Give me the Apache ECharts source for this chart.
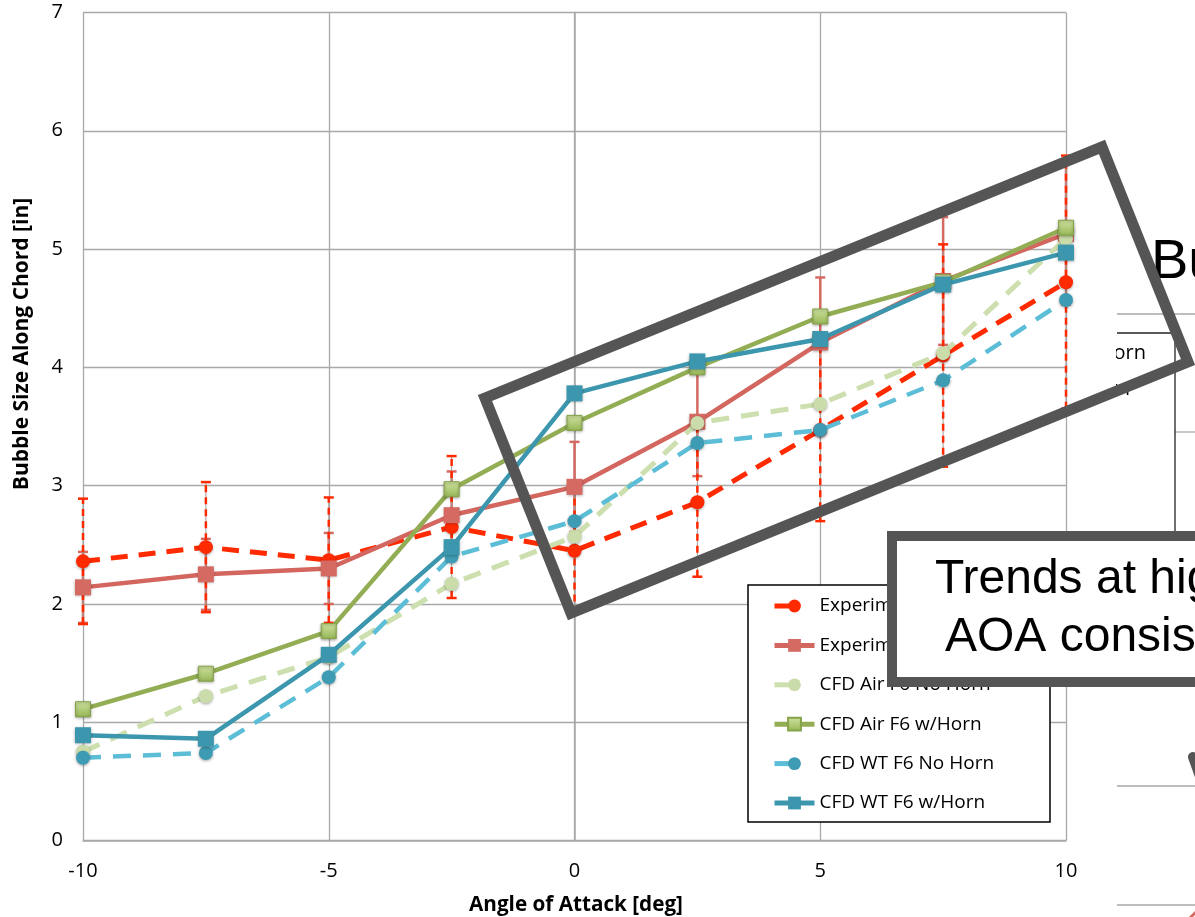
<!DOCTYPE html>
<html>
<head>
<meta charset="utf-8">
<script src="https://cdn.jsdelivr.net/npm/echarts@6/dist/echarts.min.js"></script>
<style>
  html, body { margin: 0; padding: 0; background: #fff; }
  #chart { width: 1195px; height: 917px; }
</style>
</head>
<body>
<div id="chart"></div>
<script>
// Angle of attack stations [deg]
const aoa = [-10, -7.5, -5, -2.5, 0, 2.5, 5, 7.5, 10];

// Bubble size along chord [in]
const expNoHorn    = [2.36, 2.48, 2.37, 2.65, 2.45, 2.86, 3.47, 4.10, 4.72];
const expNoHornErr = [0.53, 0.55, 0.53, 0.60, 0.53, 0.63, 0.77, 0.94, 1.07];
const expHorn      = [2.14, 2.25, 2.30, 2.75, 2.99, 3.54, 4.21, 4.73, 5.13];
const expHornErr   = [0.30, 0.30, 0.30, 0.37, 0.38, 0.46, 0.55, 0.54, 0.60];
const airNoHorn    = [0.75, 1.22, 1.55, 2.17, 2.57, 3.53, 3.69, 4.12, 5.09];
const airHorn      = [1.11, 1.41, 1.77, 2.97, 3.53, 4.00, 4.43, 4.72, 5.18];
const wtNoHorn     = [0.70, 0.74, 1.38, 2.40, 2.70, 3.36, 3.47, 3.89, 4.57];
const wtHorn       = [0.89, 0.86, 1.57, 2.48, 3.78, 4.05, 4.24, 4.70, 4.97];

const seriesNames = [
  'Experimental F6 No Horn',
  'Experimental F6 w/Horn',
  'CFD Air F6 No Horn',
  'CFD Air F6 w/Horn',
  'CFD WT F6 No Horn',
  'CFD WT F6 w/Horn'
];

const xTicks = { min: -10, max: 10, step: 5 };
const yTicks = { min: 0, max: 7, step: 1 };

const pairs = vals => aoa.map((a, i) => [a, vals[i]]);
const GRID = '#a9a9a9';
const FONT = '"Open Sans", "Noto Sans", sans-serif';
const SLIDE_FONT = '"Liberation Sans", Arial, sans-serif';
const markerShadow = { shadowBlur: 3, shadowColor: 'rgba(0,0,0,0.35)', shadowOffsetY: 1 };

function lineSeries(name, vals, opt) {
  return {
    type: 'line', name, z: opt.z,
    data: pairs(vals),
    symbol: opt.symbol, symbolSize: opt.size,
    showAllSymbol: true,
    lineStyle: { color: opt.line, width: opt.width || 4.5, type: opt.dash || 'solid', cap: 'butt' },
    itemStyle: Object.assign({ color: opt.fill, borderColor: opt.border || opt.fill, borderWidth: opt.border ? 1 : 0 }, markerShadow),
    emphasis: { disabled: true },
    animation: false
  };
}

// Vertical error bars with caps, placed through the axis scales
function errorBars(vals, errs, color, dashed, z) {
  return {
    type: 'custom', z, silent: true, animation: false,
    encode: { x: 0, y: [1, 2] },
    data: aoa.map((a, i) => [a, vals[i] - errs[i], vals[i] + errs[i]]),
    renderItem(params, api) {
      const lo = api.coord([api.value(0), api.value(1)]);
      const hi = api.coord([api.value(0), api.value(2)]);
      const c = 5;
      const kids = [];
      if (dashed) {
        kids.push({ type: 'line', shape: { x1: lo[0], y1: lo[1], x2: hi[0], y2: hi[1] },
          style: { stroke: '#9c9c9c', lineWidth: 1 } });
      }
      kids.push({ type: 'line', shape: { x1: lo[0], y1: lo[1], x2: hi[0], y2: hi[1] },
        style: { stroke: color, lineWidth: 2.5, lineDash: dashed ? [7, 5] : null } });
      kids.push({ type: 'line', shape: { x1: lo[0] - c, y1: lo[1], x2: lo[0] + c, y2: lo[1] },
        style: { stroke: color, lineWidth: 2.5 } });
      kids.push({ type: 'line', shape: { x1: hi[0] - c, y1: hi[1], x2: hi[0] + c, y2: hi[1] },
        style: { stroke: color, lineWidth: 2.5 } });
      return { type: 'group', children: kids };
    }
  };
}

const greenGrad = new echarts.graphic.LinearGradient(0, 0, 0, 1, [
  { offset: 0, color: '#cfe3a0' }, { offset: 1, color: '#96b655' }
]);

const chart = echarts.init(document.getElementById('chart'), null, { renderer: 'canvas' });

chart.setOption({
  backgroundColor: '#ffffff',
  animation: false,
  grid: { left: 83, top: 12.5, width: 983, height: 828, containLabel: false },
  xAxis: {
    type: 'value', min: xTicks.min, max: xTicks.max, interval: xTicks.step,
    axisLine: { show: true, lineStyle: { color: GRID, width: 1.5 } },
    axisTick: { show: false },
    splitLine: { show: true, lineStyle: { color: GRID, width: 1.3 } },
    axisLabel: { color: '#000', fontFamily: FONT, fontSize: 20, margin: 21 }
  },
  yAxis: {
    type: 'value', min: yTicks.min, max: yTicks.max, interval: yTicks.step,
    axisLine: { show: true, lineStyle: { color: GRID, width: 1.5 } },
    axisTick: { show: false },
    splitLine: { show: true, lineStyle: { color: GRID, width: 1.3 } },
    axisLabel: { color: '#000', fontFamily: FONT, fontSize: 20, margin: 20 }
  },
  legend: {
    orient: 'vertical', left: 748, top: 585,
    padding: [11, 10, 9, 24],
    itemWidth: 40, itemHeight: 16, itemGap: 19.4,
    selectedMode: false,
    textStyle: { color: '#000', fontFamily: FONT, fontSize: 19, lineHeight: 20 },
    lineStyle: { width: 5 },
    z: 4,
    data: [
      { name: seriesNames[0], lineStyle: { type: [17, 30], width: 5 } },
      { name: seriesNames[1], lineStyle: { type: 'solid', width: 5 } },
      { name: seriesNames[2], lineStyle: { type: [17, 30], width: 5 } },
      { name: seriesNames[3], lineStyle: { type: 'solid', width: 5 } },
      { name: seriesNames[4], lineStyle: { type: [17, 30], width: 5 } },
      { name: seriesNames[5], lineStyle: { type: 'solid', width: 5 } }
    ]
  },
  series: [
    errorBars(expHorn, expHornErr, '#d46a62', false, 1),
    errorBars(expNoHorn, expNoHornErr, '#ff2a00', true, 1.5),
    lineSeries(seriesNames[0], expNoHorn, { z: 2, symbol: 'circle', size: 14, line: '#ff2a00', fill: '#ff2a00', dash: [17, 11], width: 5 }),
    lineSeries(seriesNames[1], expHorn, { z: 2.1, symbol: 'rect', size: 16, line: '#d3665e', fill: '#d46a62' }),
    lineSeries(seriesNames[2], airNoHorn, { z: 2.2, symbol: 'circle', size: 14, line: '#cddfae', fill: '#cbdcab', dash: [18, 12], width: 5 }),
    lineSeries(seriesNames[3], airHorn, { z: 2.3, symbol: 'rect', size: 15, line: '#93ad55', fill: greenGrad, border: '#86a348' }),
    lineSeries(seriesNames[4], wtNoHorn, { z: 2.4, symbol: 'circle', size: 14, line: '#5bbdd6', fill: '#3d9bb3', dash: [18, 12], width: 4.5 }),
    lineSeries(seriesNames[5], wtHorn, { z: 2.5, symbol: 'rect', size: 16, line: '#3c97ae', fill: '#3c97ae' })
  ],
  graphic: [
    // axis titles
    { type: 'text', z: 5, x: 576, y: 905,
      style: { text: 'Angle of Attack [deg]', fill: '#000', font: 'bold 20.7px ' + FONT, textAlign: 'center', textVerticalAlign: 'middle' } },
    { type: 'text', z: 5, x: 22, y: 344, rotation: Math.PI / 2,
      style: { text: 'Bubble Size Along Chord [in]', fill: '#000', font: 'bold 21px ' + FONT, textAlign: 'center', textVerticalAlign: 'middle' } },

    // legend frame
    { type: 'rect', z: 3, shape: { x: 748, y: 585, width: 302, height: 237 },
      style: { fill: '#fff', stroke: '#000', lineWidth: 1.5 } },

    // neighbouring chart on the slide, partly hidden behind this one
    { type: 'line', z: 1, shape: { x1: 1117, y1: 314, x2: 1200, y2: 314 }, style: { stroke: GRID, lineWidth: 1.3 } },
    { type: 'line', z: 1, shape: { x1: 1175, y1: 432, x2: 1200, y2: 432 }, style: { stroke: GRID, lineWidth: 1.3 } },
    { type: 'line', z: 1, shape: { x1: 1117, y1: 786, x2: 1200, y2: 786 }, style: { stroke: GRID, lineWidth: 1.3 } },
    { type: 'line', z: 1, shape: { x1: 1117, y1: 905, x2: 1200, y2: 905 }, style: { stroke: GRID, lineWidth: 1.3 } },
    { type: 'line', z: 1, shape: { x1: 1117, y1: 333, x2: 1175, y2: 333 }, style: { stroke: '#222', lineWidth: 1.3 } },
    { type: 'line', z: 1, shape: { x1: 1175, y1: 333, x2: 1175, y2: 620 }, style: { stroke: '#222', lineWidth: 1.3 } },
    { type: 'text', z: 1, x: 1146, y: 353,
      style: { text: 'Horn', fill: '#000', font: '20px ' + FONT, textAlign: 'right', textVerticalAlign: 'middle' } },
    { type: 'text', z: 1, x: 1130, y: 389,
      style: { text: 'Horn', fill: '#000', font: '20px ' + FONT, textAlign: 'right', textVerticalAlign: 'middle' } },
    { type: 'rect', z: 1.5, shape: { x: 1072, y: 334, width: 44, height: 78 }, style: { fill: '#fff' } },
    { type: 'text', z: 1, x: 1151, y: 263,
      style: { text: 'Bubble Size', fill: '#000', font: '56px ' + SLIDE_FONT, textAlign: 'left', textVerticalAlign: 'middle' } },
    { type: 'line', z: 1, shape: { x1: 1193, y1: 757, x2: 1202, y2: 782 }, style: { stroke: '#555', lineWidth: 10, lineCap: 'round' } },
    { type: 'line', z: 1, shape: { x1: 1189, y1: 919, x2: 1197, y2: 911 }, style: { stroke: '#d46a62', lineWidth: 3 } },

    // highlight frame around the high-AOA points
    { type: 'polygon', z: 10,
      shape: { points: [[485, 398], [1102, 147], [1188, 362], [571, 613]] },
      style: { fill: null, stroke: '#555', lineWidth: 11, lineJoin: 'miter' } },

    // call-out box
    { type: 'rect', z: 10, shape: { x: 892, y: 536, width: 400, height: 146 },
      style: { fill: '#fff', stroke: '#555', lineWidth: 10 } },
    { type: 'text', z: 11, x: 935, y: 580,
      style: { text: 'Trends at high', fill: '#000', font: '48px ' + SLIDE_FONT, textAlign: 'left', textVerticalAlign: 'middle' } },
    { type: 'text', z: 11, x: 945, y: 638,
      style: { text: 'AOA consistent', fill: '#000', font: '48px ' + SLIDE_FONT, textAlign: 'left', textVerticalAlign: 'middle' } }
  ]
});
</script>
</body>
</html>
